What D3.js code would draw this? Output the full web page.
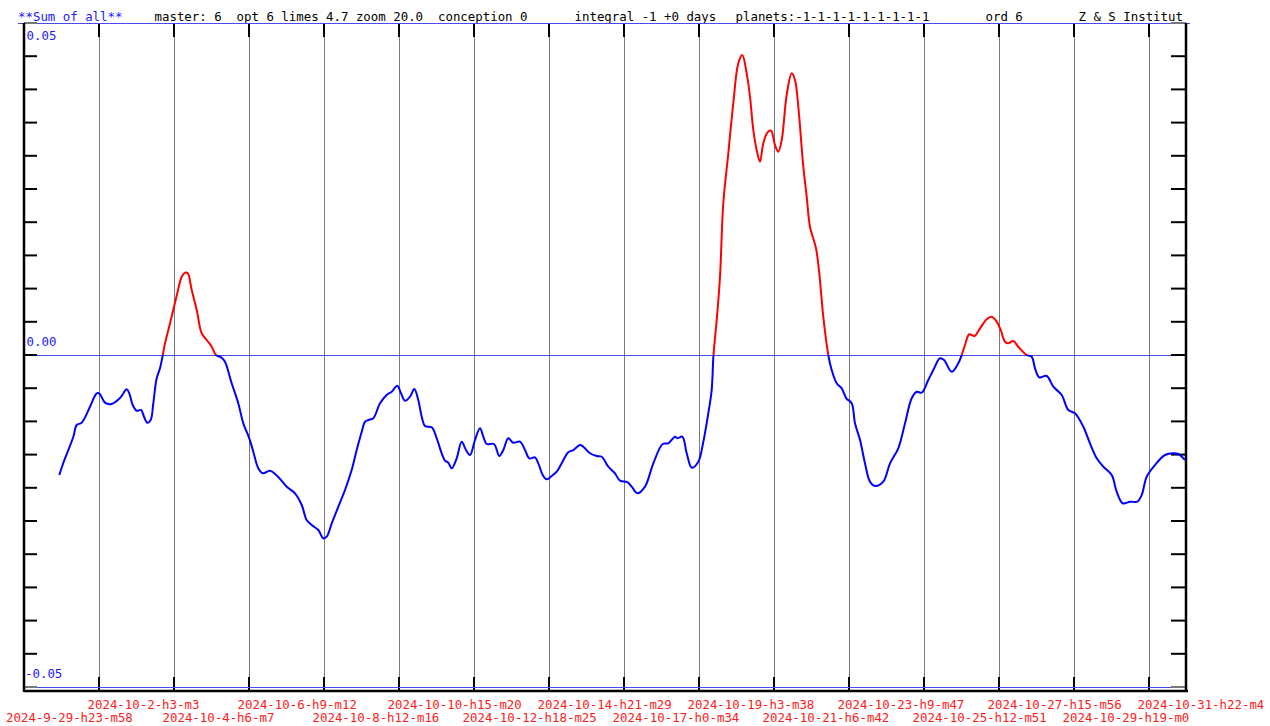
<!DOCTYPE html>
<html><head><meta charset="utf-8">
<script src="https://cdn.jsdelivr.net/npm/d3@7"></script>
<style>
body{margin:0;background:#fff;}
svg{display:block;}
text{font-family:"DejaVu Sans Mono","Liberation Mono",monospace;font-size:12.4px;white-space:pre;}
</style>
</head><body>
<svg id="c" width="1270" height="726"></svg>
<script>
// time in label-interval units (1 unit = 2d 3h 4m, 0 = 2024-09-29 23:58)
const tIndex = [0.471,0.524,0.657,0.703,0.769,0.880,0.969,1.004,1.080,1.169,1.280,1.369,1.404,1.449,1.503,1.560,1.600,1.644,1.689,1.724,1.769,1.813,1.849,1.880,1.947,2.000,2.044,2.103,2.147,2.183,2.236,2.303,2.369,2.436,2.503,2.560,2.636,2.680,2.769,2.857,2.924,3.004,3.057,3.124,3.183,3.280,3.377,3.503,3.613,3.703,3.769,3.836,3.924,3.991,4.036,4.103,4.191,4.280,4.369,4.436,4.503,4.547,4.591,4.657,4.747,4.836,4.903,4.977,5.027,5.080,5.147,5.204,5.257,5.303,5.347,5.436,5.503,5.569,5.613,5.657,5.703,5.769,5.836,5.893,5.947,6.013,6.080,6.124,6.169,6.267,6.337,6.391,6.457,6.524,6.613,6.680,6.737,6.813,6.857,6.916,6.969,7.036,7.103,7.169,7.257,7.324,7.413,7.457,7.547,7.636,7.703,7.791,7.880,7.947,8.044,8.103,8.177,8.280,8.391,8.516,8.591,8.680,8.711,8.777,8.836,8.903,8.991,9.057,9.124,9.169,9.193,9.236,9.280,9.324,9.391,9.457,9.524,9.577,9.636,9.680,9.724,9.769,9.813,9.857,9.911,9.960,10.013,10.057,10.103,10.169,10.236,10.280,10.324,10.391,10.436,10.480,10.560,10.604,10.657,10.724,10.769,10.836,10.903,10.964,11.036,11.080,11.147,11.213,11.280,11.347,11.457,11.547,11.657,11.747,11.836,11.903,11.969,12.057,12.124,12.213,12.267,12.369,12.457,12.503,12.547,12.604,12.671,12.747,12.836,12.903,12.969,13.023,13.080,13.124,13.191,13.257,13.369,13.436,13.480,13.537,13.636,13.724,13.836,13.924,14.013,14.124,14.213,14.303,14.391,14.503,14.569,14.649,14.747,14.844,14.903,14.969,15.080,15.213,15.324,15.391,15.480];

// series values (in units of 0.001)
const valuesMilli = [-18.07,-16.27,-12.35,-10.54,-10.20,-7.79,-5.77,-5.77,-7.18,-7.38,-6.48,-5.17,-5.77,-7.53,-8.39,-8.28,-9.29,-10.20,-9.79,-7.27,-3.51,-2.00,-0.11,1.76,4.77,7.27,9.29,11.79,12.39,12.30,9.79,6.78,3.27,2.26,1.25,0,-0.41,-1.01,-4.26,-7.27,-10.29,-12.55,-14.56,-17.06,-17.82,-17.42,-18.22,-19.83,-20.83,-22.59,-24.85,-25.60,-26.36,-27.61,-27.36,-25.35,-22.85,-20.33,-17.32,-14.31,-11.55,-10.05,-9.79,-9.53,-7.27,-6.02,-5.53,-4.62,-5.77,-6.88,-6.28,-5.12,-6.78,-9.29,-10.69,-10.89,-12.55,-14.80,-15.92,-16.22,-17.06,-15.56,-13.06,-14.31,-15.06,-12.80,-11.04,-12.30,-13.40,-13.40,-15.21,-14.31,-12.55,-13.21,-13.06,-14.31,-15.56,-15.41,-16.31,-18.07,-18.72,-18.22,-17.58,-16.31,-14.65,-14.31,-13.55,-13.81,-14.80,-15.21,-15.32,-16.82,-17.82,-18.93,-19.13,-19.83,-20.83,-19.83,-16.31,-13.40,-13.30,-12.30,-12.55,-12.30,-14.80,-16.97,-16.07,-13.10,-8.78,-5.27,0,5.27,11.79,22.85,30.38,37.91,43.93,45.18,42.42,38.90,33.89,30.87,29.11,31.88,33.48,33.78,31.63,30.62,32.38,39.16,42.42,41.42,37.39,28.36,23.84,19.32,16.07,12.30,5.77,0,-2.26,-4.26,-5.02,-6.52,-7.27,-10.29,-12.80,-16.31,-19.08,-19.73,-19.08,-16.31,-14.05,-10.29,-6.52,-5.53,-5.68,-3.77,-2.26,-0.50,-0.75,-2.52,-1.25,0,1.51,3.12,2.86,4.02,5.38,5.77,5.02,3.77,2.00,1.76,2.11,1.25,0,-0.26,-2.00,-3.36,-3.16,-4.77,-6.02,-8.28,-8.78,-10.80,-13.30,-15.56,-16.82,-18.07,-20.59,-22.33,-22.09,-22.09,-21.08,-18.33,-16.57,-15.06,-14.80,-14.91,-15.81];

const tickLabels = ["2024-9-29-h23-m58","2024-10-2-h3-m3","2024-10-4-h6-m7","2024-10-6-h9-m12","2024-10-8-h12-m16","2024-10-10-h15-m20","2024-10-12-h18-m25","2024-10-14-h21-m29","2024-10-17-h0-m34","2024-10-19-h3-m38","2024-10-21-h6-m42","2024-10-23-h9-m47","2024-10-25-h12-m51","2024-10-27-h15-m56","2024-10-29-h19-m0","2024-10-31-h22-m4"];

const yLabelValues = [0.05, 0, -0.05];
const yLabelTexts = ["0.05", "0.00", "-0.05"];
const refLineValues = [0.05, 0, -0.05];

const headerTexts = ["**Sum of all**", "master: 6  opt 6 limes 4.7 zoom 20.0  conception 0", "integral -1 +0 days", "planets:-1-1-1-1-1-1-1-1-1", "ord 6", "Z & S Institut"];

// ---------- drawing ----------
const svg = d3.select("#c");
const L = 24, R = 1186, T = 23, B = 687, AXB = 691;
const x = d3.scaleLinear().domain([0, (R - L) / 75]).range([L, R]);
const y = d3.scaleLinear().domain([-0.05, 0.05]).range([B, T]);

svg.append("rect").attr("width", 1270).attr("height", 726).attr("fill", "#fff");

const headerX = [18, 154.5, 574.5, 735.5, 985.5, 1078.5];
const headerCol = ["#1a1aff", "#000", "#000", "#000", "#000", "#000"];
svg.selectAll("text.hdr").data(headerTexts).join("text").attr("class", "hdr")
  .attr("x", (d, i) => headerX[i]).attr("y", 21)
  .attr("fill", (d, i) => headerCol[i]).text(d => d);

// vertical grid lines
const gridIdx = d3.range(1, 16);
svg.selectAll("line.grid").data(gridIdx).join("line").attr("class", "grid")
  .attr("x1", d => x(d)).attr("x2", d => x(d)).attr("y1", T).attr("y2", AXB)
  .attr("stroke", "#7a7a7a").attr("stroke-width", 1).attr("shape-rendering", "crispEdges");
svg.selectAll("line.gtT").data(gridIdx).join("line").attr("class", "gtT")
  .attr("x1", d => x(d)).attr("x2", d => x(d)).attr("y1", T).attr("y2", T + 14)
  .attr("stroke", "#000").attr("stroke-width", 2);
svg.selectAll("line.gtB").data(gridIdx).join("line").attr("class", "gtB")
  .attr("x1", d => x(d)).attr("x2", d => x(d)).attr("y1", AXB - 14).attr("y2", AXB)
  .attr("stroke", "#000").attr("stroke-width", 2);

// horizontal reference lines (blue)
svg.selectAll("line.ref").data(refLineValues).join("line").attr("class", "ref")
  .attr("x1", d => d === 0.05 ? 18 : L).attr("x2", d => d === 0.05 ? 1190 : R)
  .attr("y1", d => y(d)).attr("y2", d => y(d))
  .attr("stroke", "#4a4aee").attr("stroke-width", 1).attr("shape-rendering", "crispEdges");

// y ticks left and right
const yTicks = d3.range(-10, 11).map(i => i * 0.005);
svg.selectAll("line.ytl").data(yTicks).join("line").attr("class", "ytl")
  .attr("x1", L).attr("x2", L + 13).attr("y1", d => y(d)).attr("y2", d => y(d))
  .attr("stroke", d => Math.abs(d) > 0.0499 ? "#777" : "#000").attr("stroke-width", 2);
svg.selectAll("line.ytr").data(yTicks).join("line").attr("class", "ytr")
  .attr("x1", R - 15).attr("x2", R).attr("y1", d => y(d)).attr("y2", d => y(d))
  .attr("stroke", d => Math.abs(d) > 0.0499 ? "#777" : "#000").attr("stroke-width", 2);

// axes frame
svg.append("line").attr("x1", L).attr("x2", L).attr("y1", T).attr("y2", AXB + 1)
  .attr("stroke", "#000").attr("stroke-width", 2.5);
svg.append("line").attr("x1", R).attr("x2", R).attr("y1", T).attr("y2", AXB + 1)
  .attr("stroke", "#000").attr("stroke-width", 2.5);
svg.append("line").attr("x1", L).attr("x2", R + 2).attr("y1", AXB).attr("y2", AXB)
  .attr("stroke", "#000").attr("stroke-width", 2.5);

// y labels
svg.selectAll("text.yl").data(yLabelValues).join("text").attr("class", "yl")
  .attr("x", (d, i) => i === 2 ? 25 : 26.5)
  .attr("y", d => d === 0.05 ? y(d) + 17 : y(d) - 9)
  .attr("fill", "#1a1aff").text((d, i) => yLabelTexts[i]);

// x labels (alternating rows)
svg.selectAll("text.xl").data(tickLabels).join("text").attr("class", "xl")
  .attr("x", (d, i) => i === 0 ? 6 : x(i) - 11.5)
  .attr("y", (d, i) => i % 2 === 0 ? 722 : 709)
  .attr("fill", "#ff1a1a").text(d => d);

// data line, colored by sign via clip paths
const n = Math.min(tIndex.length, valuesMilli.length);
const pts = d3.range(n).map(i => [tIndex[i], valuesMilli[i] / 1000]);
const line = d3.line().x(d => x(d[0])).y(d => y(d[1])).curve(d3.curveCatmullRom.alpha(0.5));
const defs = svg.append("defs");
defs.append("clipPath").attr("id", "above").append("rect")
  .attr("x", 0).attr("y", 0).attr("width", 1270).attr("height", y(0));
defs.append("clipPath").attr("id", "below").append("rect")
  .attr("x", 0).attr("y", y(0)).attr("width", 1270).attr("height", 726 - y(0));
svg.append("path").datum(pts).attr("d", line).attr("fill", "none")
  .attr("stroke", "#0000ff").attr("stroke-width", 2).attr("clip-path", "url(#below)");
svg.append("path").datum(pts).attr("d", line).attr("fill", "none")
  .attr("stroke", "#ff0000").attr("stroke-width", 2).attr("clip-path", "url(#above)");
</script>
</body></html>
